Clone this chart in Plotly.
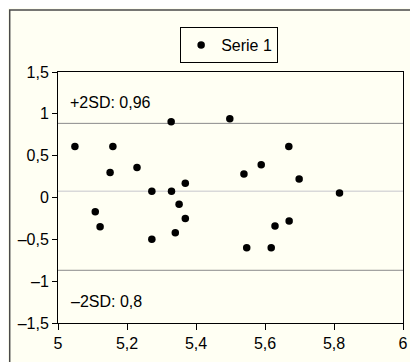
import plotly.graph_objects as go

# Data
x_vals = [5.049, 5.108, 5.122, 5.151, 5.159, 5.229, 5.272, 5.272, 5.328, 5.329,
          5.340, 5.351, 5.369, 5.369, 5.498, 5.539, 5.547, 5.589, 5.618, 5.629,
          5.669, 5.670, 5.699, 5.816]
y_vals = [0.61, -0.17, -0.35, 0.30, 0.61, 0.36, 0.074, -0.50, 0.906, 0.074,
          -0.42, -0.08, 0.17, -0.25, 0.94, 0.28, -0.60, 0.39, -0.60, -0.34,
          0.61, -0.28, 0.22, 0.054]
series_name = "Serie 1"
mean_line = 0.074
upper_line = 0.886
lower_line = -0.87
upper_label = "+2SD: 0,96"
lower_label = "–2SD: 0,8"

x_ticks = [5, 5.2, 5.4, 5.6, 5.8, 6]
x_ticktext = ["5", "5,2", "5,4", "5,6", "5,8", "6"]
y_ticks = [-1.5, -1, -0.5, 0, 0.5, 1, 1.5]
y_ticktext = ["–1,5", "–1", "–0,5", "0", "0,5", "1", "1,5"]

BG = "#FFFFF3"
FONT = "Liberation Sans, Arial, sans-serif"
FS = 16

fig = go.Figure()
fig.add_trace(go.Scatter(
    x=x_vals, y=y_vals, mode="markers", name=series_name,
    marker=dict(color="black", size=7.5),
    showlegend=True,
))

shapes = [
    # outer border
    dict(type="rect", xref="paper", yref="paper", x0=-0.14, x1=1.1, y0=-0.3, y1=1.247,
         line=dict(color="#4a4a4a", width=1.5), fillcolor="rgba(0,0,0,0)", layer="below"),
    dict(type="line", xref="paper", yref="y", x0=0, x1=1, y0=mean_line, y1=mean_line,
         line=dict(color="#d9d9d9", width=1.5), layer="below"),
    dict(type="line", xref="paper", yref="y", x0=0, x1=1, y0=upper_line, y1=upper_line,
         line=dict(color="#8a8a8a", width=1), layer="below"),
    dict(type="line", xref="paper", yref="y", x0=0, x1=1, y0=lower_line, y1=lower_line,
         line=dict(color="#8a8a8a", width=1), layer="below"),
]

annotations = [
    dict(x=5.029, y=1.14, xref="x", yref="y", text=upper_label, showarrow=False,
         xanchor="left", yanchor="middle", font=dict(size=FS, color="black", family=FONT)),
    dict(x=5.031, y=-1.24, xref="x", yref="y", text=lower_label, showarrow=False,
         xanchor="left", yanchor="middle", font=dict(size=FS, color="black", family=FONT)),
]

fig.update_layout(
    width=410, height=354,
    margin=dict(l=50, r=10, t=64, b=39),
    paper_bgcolor=BG, plot_bgcolor=BG,
    font=dict(family=FONT, size=FS, color="black"),
    shapes=shapes, annotations=annotations,
    showlegend=True,
    legend=dict(x=0.354, y=1.179, xanchor="left", yanchor="top",
                bgcolor=BG, bordercolor="black", borderwidth=1,
                font=dict(size=FS, color="black", family=FONT),
                itemwidth=30),
)
fig.update_xaxes(range=[5, 6], tickvals=x_ticks, ticktext=x_ticktext,
                 showgrid=False, zeroline=False, showline=True, linecolor="black",
                 linewidth=1, mirror=True, ticks="outside", ticklen=6, tickcolor="black",
                 tickfont=dict(size=FS))
fig.update_yaxes(range=[-1.5, 1.5], tickvals=y_ticks, ticktext=y_ticktext,
                 showgrid=False, zeroline=False, showline=True, linecolor="black",
                 linewidth=1, mirror=True, ticks="outside", ticklen=5, tickcolor="black",
                 tickfont=dict(size=FS))

fig.write_html("out.html")
